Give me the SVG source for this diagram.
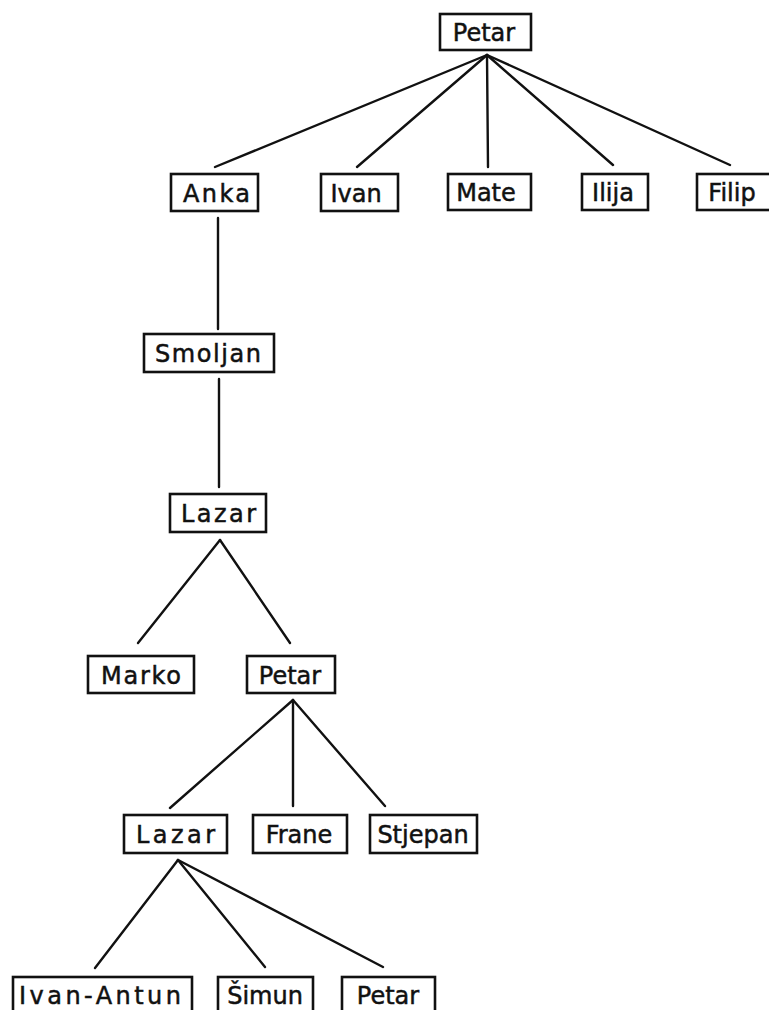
<svg xmlns="http://www.w3.org/2000/svg" width="769" height="1010" viewBox="0 0 769 1010">
<style>
.box{fill:#fff;stroke:#111;stroke-width:2.6}
.t{font-family:"DejaVu Sans","Liberation Sans",sans-serif;font-size:24px;fill:#111;stroke:#111;stroke-width:0.5;text-anchor:middle}
.s{text-anchor:start}
.c line{stroke:#111;stroke-width:2.4;stroke-linecap:round}
</style>
<rect width="769" height="1010" fill="#fff"/>
<g class="c" id="connectors">
<line x1="487" y1="55" x2="215" y2="167"/>
<line x1="487" y1="55" x2="357" y2="167"/>
<line x1="487" y1="55" x2="488" y2="167"/>
<line x1="487" y1="55" x2="613" y2="165"/>
<line x1="487" y1="55" x2="730" y2="165"/>
<line x1="218" y1="218" x2="218" y2="329"/>
<line x1="219" y1="379" x2="219" y2="487"/>
<line x1="220" y1="540" x2="138" y2="643"/>
<line x1="220" y1="540" x2="290" y2="643"/>
<line x1="293" y1="700" x2="170" y2="808"/>
<line x1="293" y1="700" x2="293" y2="806"/>
<line x1="293" y1="700" x2="385" y2="806"/>
<line x1="178" y1="860" x2="95" y2="968"/>
<line x1="178" y1="860" x2="265" y2="967"/>
<line x1="178" y1="860" x2="383" y2="967"/>
</g>
<g id="n-petar-top"><rect class="box" x="440" y="14" width="91" height="36"/><text class="t" x="484" y="41">Petar</text></g>
<g id="n-anka"><rect class="box" x="171" y="174" width="87" height="37"/><text class="t s" x="183" y="202" textLength="67" lengthAdjust="spacing">Anka</text></g>
<g id="n-ivan"><rect class="box" x="321" y="174" width="77" height="37"/><text class="t" x="356" y="202">Ivan</text></g>
<g id="n-mate"><rect class="box" x="448" y="174" width="83" height="36"/><text class="t" x="486" y="201">Mate</text></g>
<g id="n-ilija"><rect class="box" x="582" y="174" width="66" height="36"/><text class="t" x="613" y="201">Ilija</text></g>
<g id="n-filip"><rect class="box" x="697" y="174" width="80" height="36"/><text class="t" x="732" y="201">Filip</text></g>
<g id="n-smoljan"><rect class="box" x="144" y="334" width="130" height="38"/><text class="t s" x="155" y="362" textLength="106" lengthAdjust="spacing">Smoljan</text></g>
<g id="n-lazar1"><rect class="box" x="170" y="494" width="96" height="38"/><text class="t s" x="181" y="522" textLength="75" lengthAdjust="spacing">Lazar</text></g>
<g id="n-marko"><rect class="box" x="88" y="656" width="106" height="37"/><text class="t s" x="101" y="684" textLength="80" lengthAdjust="spacing">Marko</text></g>
<g id="n-petar2"><rect class="box" x="247" y="656" width="88" height="37"/><text class="t" x="290" y="684">Petar</text></g>
<g id="n-lazar2"><rect class="box" x="124" y="815" width="103" height="38"/><text class="t s" x="136" y="843" textLength="79" lengthAdjust="spacing">Lazar</text></g>
<g id="n-frane"><rect class="box" x="253" y="815" width="94" height="38"/><text class="t" x="299" y="843">Frane</text></g>
<g id="n-stjepan"><rect class="box" x="370" y="815" width="107" height="38"/><text class="t" x="423" y="843">Stjepan</text></g>
<g id="n-ivan-antun"><rect class="box" x="13" y="977" width="179" height="40"/><text class="t s" x="19" y="1004" textLength="162" lengthAdjust="spacing">Ivan-Antun</text></g>
<g id="n-simun"><rect class="box" x="218" y="977" width="95" height="40"/><text class="t" x="265" y="1004">Šimun</text></g>
<g id="n-petar3"><rect class="box" x="342" y="977" width="93" height="40"/><text class="t" x="388" y="1004">Petar</text></g>
</svg>
